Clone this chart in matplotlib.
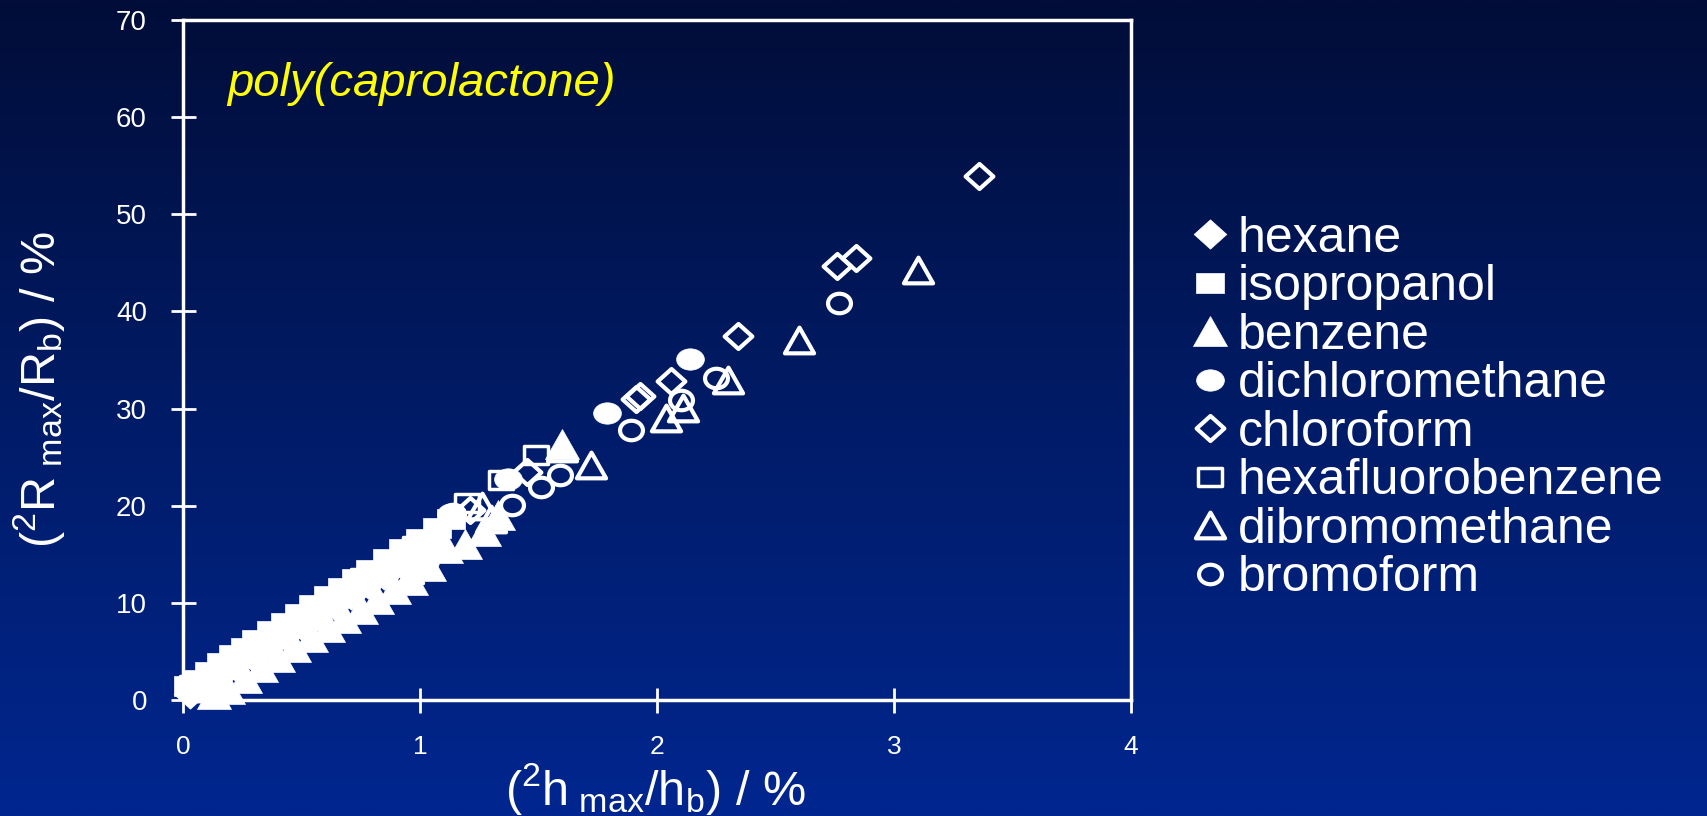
import numpy as np
import matplotlib
matplotlib.use('Agg')
import matplotlib.pyplot as plt
from matplotlib.path import Path
from matplotlib.transforms import Affine2D
from matplotlib.colors import LinearSegmentedColormap

plt.rcParams['font.family'] = ['Liberation Sans', 'DejaVu Sans']
plt.rcParams['mathtext.fontset'] = 'custom'
plt.rcParams['mathtext.rm'] = 'Liberation Sans'
plt.rcParams['mathtext.it'] = 'Liberation Sans:italic'
plt.rcParams['mathtext.bf'] = 'Liberation Sans:bold'

# ---------------- data ----------------
series_names = ['hexane', 'isopropanol', 'benzene', 'dichloromethane',
                'chloroform', 'hexafluorobenzene', 'dibromomethane', 'bromoform']

hexane_x = [0.03, 0.09, 0.15, 0.22, 0.29, 0.36, 0.43, 0.50, 0.57, 0.64, 0.71, 0.78, 0.85, 0.92, 0.99, 1.06]
hexane_y = [0.6, 1.5, 2.4, 3.5, 4.5, 5.6, 6.6, 7.7, 8.7, 9.8, 10.8, 11.9, 12.9, 14.0, 15.0, 16.2]

isopropanol_x = [0.02, 0.06, 0.11, 0.16, 0.21, 0.26, 0.31, 0.37, 0.43, 0.49, 0.55, 0.61, 0.67, 0.73, 0.79, 0.86, 0.93, 1.00, 1.07, 1.13]
isopropanol_y = [1.4, 2.1, 2.9, 3.8, 4.6, 5.4, 6.2, 7.1, 7.9, 8.9, 9.8, 10.7, 11.5, 12.5, 13.4, 14.5, 15.5, 16.6, 17.7, 18.6]

benzene_x = [0.13, 0.19, 0.26, 0.33, 0.40, 0.47, 0.54, 0.61, 0.68, 0.75, 0.82, 0.89, 0.96, 1.04, 1.11, 1.19, 1.27, 1.33, 1.60]
benzene_y = [0.6, 1.1, 2.3, 3.4, 4.4, 5.5, 6.5, 7.5, 8.4, 9.4, 10.4, 11.4, 12.4, 13.8, 15.6, 16.1, 17.4, 19.0, 26.4]

dichloromethane_x = [0.08, 0.35, 0.62, 1.02, 1.13, 1.37, 1.79, 2.14]
dichloromethane_y = [1.0, 5.5, 9.6, 14.2, 19.1, 22.7, 29.5, 35.1]

chloroform_x = [0.05, 0.45, 0.80, 1.21, 1.45, 1.91, 1.93, 2.06, 2.34, 2.76, 2.84, 3.36]
chloroform_y = [1.4, 7.4, 12.8, 19.6, 23.5, 31.0, 31.3, 32.8, 37.5, 44.7, 45.5, 53.9]

hexafluorobenzene_x = [0.04, 0.30, 0.58, 0.76, 0.98, 1.20, 1.34, 1.49]
hexafluorobenzene_y = [1.5, 5.0, 9.6, 12.6, 15.9, 20.3, 22.6, 25.2]

dibromomethane_x = [0.10, 0.38, 0.70, 0.95, 1.26, 1.30, 1.60, 1.72, 2.04, 2.11, 2.30, 2.60, 3.10]
dibromomethane_y = [1.2, 5.0, 9.8, 13.4, 20.0, 18.6, 25.9, 24.2, 29.0, 30.1, 32.9, 37.1, 44.3]

bromoform_x = [0.06, 0.52, 0.88, 1.14, 1.39, 1.51, 1.59, 1.89, 2.10, 2.25, 2.77]
bromoform_y = [1.0, 7.8, 13.0, 19.1, 20.1, 21.9, 23.2, 27.8, 30.9, 33.1, 40.9]

x_ticks = [0, 1, 2, 3, 4]
y_ticks = [0, 10, 20, 30, 40, 50, 60, 70]
title_text = 'poly(caprolactone)'
x_label = r'($^{2}$h$_{\mathrm{\ max}}$/h$_{\mathrm{b}}$) / %'
y_label = r'($^{2}$R$_{\mathrm{\ max}}$/R$_{\mathrm{b}}$) / %'

# ---------------- marker shapes ----------------
def poly(verts):
    v = list(verts) + [verts[0]]
    codes = [Path.MOVETO] + [Path.LINETO] * (len(verts) - 1) + [Path.CLOSEPOLY]
    return Path(np.array(v, float), codes)

diamond = poly([(0, -0.9), (1, 0), (0, 0.9), (-1, 0)])
rect = poly([(-1, -0.72), (1, -0.72), (1, 0.72), (-1, 0.72)])
tri = poly([(0, 0.88), (-1, -0.88), (1, -0.88)])
ell_f = Affine2D().scale(1, 0.77).transform_path(Path.unit_circle())
ell_o = Affine2D().scale(1, 0.85).transform_path(Path.unit_circle())

styles = {
    'hexane':            dict(marker=diamond, ms=23.5, mfc='white', mec='white', mew=0.5),
    'isopropanol':       dict(marker=rect, ms=20.5, mfc='white', mec='white', mew=0.5),
    'benzene':           dict(marker=tri, ms=24.5, mfc='white', mec='white', mew=0.5),
    'dichloromethane':   dict(marker=ell_f, ms=20, mfc='white', mec='white', mew=0.5),
    'chloroform':        dict(marker=diamond, ms=20, mfc='none', mec='white', mew=3),
    'hexafluorobenzene': dict(marker=rect, ms=17.5, mfc='none', mec='white', mew=2.5),
    'dibromomethane':    dict(marker=tri, ms=21, mfc='none', mec='white', mew=3),
    'bromoform':         dict(marker=ell_o, ms=16.5, mfc='none', mec='white', mew=3),
}
data = {
    'hexane': (hexane_x, hexane_y),
    'isopropanol': (isopropanol_x, isopropanol_y),
    'benzene': (benzene_x, benzene_y),
    'dichloromethane': (dichloromethane_x, dichloromethane_y),
    'chloroform': (chloroform_x, chloroform_y),
    'hexafluorobenzene': (hexafluorobenzene_x, hexafluorobenzene_y),
    'dibromomethane': (dibromomethane_x, dibromomethane_y),
    'bromoform': (bromoform_x, bromoform_y),
}

# ---------------- figure ----------------
W, H = 1708, 816
fig = plt.figure(figsize=(W / 100, H / 100), dpi=100)

bg = fig.add_axes([0, 0, 1, 1], zorder=-10)
cmap = LinearSegmentedColormap.from_list('bg', ['#020d38', '#001b66', '#00268f'])
bg.imshow(np.linspace(0, 1, 512)[:, None], aspect='auto', cmap=cmap,
          extent=[0, 1, 0, 1], origin='upper')
bg.axis('off')

ax = fig.add_axes([183 / W, 1 - 700 / H, (1131 - 183) / W, (700 - 20) / H])
ax.patch.set_alpha(0)

handles = []
for name in series_names:
    xs, ys = data[name]
    ln, = ax.plot(xs, ys, linestyle='none', clip_on=False, label=name, **styles[name])
    handles.append(ln)

ax.set_xlim(0, 4)
ax.set_ylim(0, 70)
ax.set_xticks(x_ticks)
ax.set_yticks(y_ticks)
for s in ax.spines.values():
    s.set_color('white')
    s.set_linewidth(2.5)
ax.tick_params(axis='both', direction='inout', length=18, width=2,
               colors='white')
ax.tick_params(axis='y', pad=17, labelsize=20)
ax.tick_params(axis='x', pad=16, labelsize=19)

ax.text(0.0464, 0.888, title_text, transform=ax.transAxes, fontsize=34,
        style='italic', color='#ffff00', va='baseline', ha='left')

fig.text(655 / W, 1 - 789 / H, x_label, ha='center', va='center',
         fontsize=35, color='white')
fig.text(39 / W, 1 - 389 / H, y_label, ha='center', va='center',
         fontsize=35, color='white', rotation=90)

ax.legend(handles=handles, loc='center left',
          bbox_to_anchor=(1195 / W, 1 - 408.5 / H), bbox_transform=fig.transFigure,
          frameon=False, fontsize=36, handlelength=0.6, handletextpad=0.25,
          labelspacing=0.05, borderpad=0, borderaxespad=0,
          labelcolor='white', markerscale=1)

fig.savefig('out.png', dpi=100)
